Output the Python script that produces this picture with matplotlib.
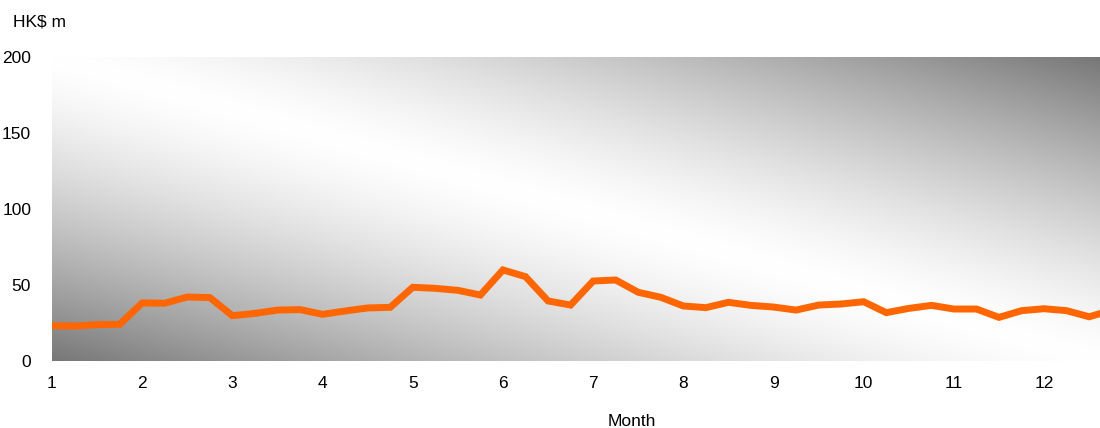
import numpy as np
import matplotlib.pyplot as plt

plt.rcParams['font.family'] = ['Liberation Sans', 'DejaVu Sans']

# Weekly values, four per month
months = [1, 2, 3, 4, 5, 6, 7, 8, 9, 10, 11, 12]
weeks_per_month = 4
values = [
    23.2, 23.0, 23.9, 24.1,
    38.2, 38.0, 42.1, 41.7,
    29.8, 31.3, 33.5, 33.8,
    30.7, 32.9, 34.9, 35.3,
    48.5, 47.8, 46.5, 43.4,
    59.9, 55.5, 39.5, 36.8,
    52.6, 53.3, 45.2, 41.9,
    36.2, 35.1, 38.6, 36.6,
    35.5, 33.5, 36.8, 37.5,
    39.0, 31.8, 34.6, 36.6,
    34.2, 34.2, 28.7, 33.1,
    34.4, 33.1, 29.1, 33.5,
]
y_ticks = [0, 50, 100, 150, 200]

x = np.array([m + w / weeks_per_month for m in months for w in range(weeks_per_month)])

fig = plt.figure(figsize=(11, 4.28), dpi=100)
ax = fig.add_axes([52 / 1100, 67 / 428, 1048 / 1100, 304 / 428])

x_min, x_max = 1, 12.62
y_min, y_max = 0, 200

# diagonal grey background: white along top-left -> bottom-right, dark in the other corners
u = np.linspace(0, 1, 600)
v = np.linspace(1, 0, 300)
uu, vv = np.meshgrid(u, v)
d = np.abs(uu + vv - 1)
shade = 1 - (1 - 0x77 / 255) * d ** 1.4
bg = np.dstack([shade, shade, shade])
ax.imshow(bg, extent=[x_min, x_max, y_min, y_max], aspect='auto',
          interpolation='bilinear', zorder=0)

ax.plot(x, values, color='#FF6600', linewidth=5, solid_joinstyle='miter', zorder=3)

ax.set_xlim(x_min, x_max)
ax.set_ylim(y_min, y_max)
ax.set_xticks(months)
ax.set_yticks(y_ticks)
ax.tick_params(axis='both', length=0, labelsize=12.5, colors='black')
ax.tick_params(axis='y', pad=15)
ax.tick_params(axis='x', pad=11)
for s in ax.spines.values():
    s.set_visible(False)

fig.text(13 / 1100, 1 - 22 / 428, 'HK$ m', fontsize=12.5, va='center', ha='left')
fig.text(632 / 1100, 1 - 421 / 428, 'Month', fontsize=12.5, va='center', ha='center')

fig.savefig('out.png', dpi=100)
